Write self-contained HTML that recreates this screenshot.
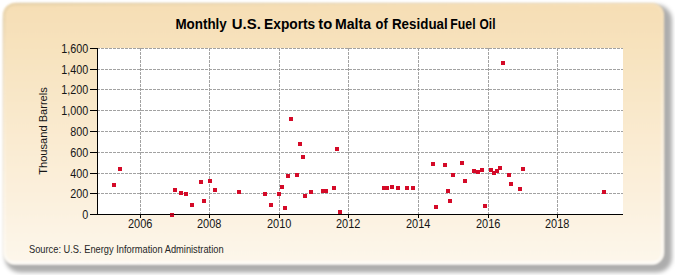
<!DOCTYPE html>
<html><head><meta charset="utf-8"><style>
html,body{margin:0;padding:0;width:675px;height:275px;overflow:hidden;background:#fff;}
svg{position:absolute;left:0;top:0;}
text{font-family:"Liberation Sans",sans-serif;fill:#000;}
.t{font-size:12px;fill:#161616;}
.yt{font-size:11.5px;fill:#161616;}
.title{font-size:14px;font-weight:bold;}
.src{font-size:10px;fill:#262626;}
</style></head><body>
<svg width="675" height="275" viewBox="0 0 675 275">
<defs><linearGradient id="bg" x1="0" y1="0" x2="0" y2="1"><stop offset="0" stop-color="#f6deb4"/><stop offset="0.98" stop-color="#fdf6ea"/><stop offset="1" stop-color="#fffbf4"/></linearGradient><linearGradient id="rim" x1="0" y1="0" x2="0.3" y2="1"><stop offset="0" stop-color="#c8b890" stop-opacity="0.35"/><stop offset="0.35" stop-color="#ffffff" stop-opacity="0.1"/><stop offset="1" stop-color="#ffffff" stop-opacity="0.7"/></linearGradient><filter id="sh" x="-5%" y="-10%" width="110%" height="120%"><feGaussianBlur stdDeviation="2.2"/></filter><filter id="soft" x="-2%" y="-2%" width="104%" height="104%"><feGaussianBlur stdDeviation="1"/></filter></defs>
<rect x="5" y="5" width="667" height="267.5" rx="15" fill="#000" fill-opacity="0.32" filter="url(#sh)"/>
<rect x="3" y="3" width="661" height="261.5" rx="12" fill="url(#bg)" filter="url(#soft)"/><rect x="4.5" y="4.5" width="658" height="258.5" rx="10.5" fill="none" stroke="url(#rim)" stroke-width="2" filter="url(#soft)"/>
<rect x="98" y="48" width="525" height="166" fill="#ffffff"/>
<line x1="97" y1="48.5" x2="623" y2="48.5" stroke="#a2a2a2" stroke-width="1" stroke-dasharray="3 1"/>
<line x1="97" y1="69.5" x2="623" y2="69.5" stroke="#a2a2a2" stroke-width="1" stroke-dasharray="3 1"/>
<line x1="97" y1="89.5" x2="623" y2="89.5" stroke="#a2a2a2" stroke-width="1" stroke-dasharray="3 1"/>
<line x1="97" y1="110.5" x2="623" y2="110.5" stroke="#a2a2a2" stroke-width="1" stroke-dasharray="3 1"/>
<line x1="97" y1="131.5" x2="623" y2="131.5" stroke="#a2a2a2" stroke-width="1" stroke-dasharray="3 1"/>
<line x1="97" y1="152.5" x2="623" y2="152.5" stroke="#a2a2a2" stroke-width="1" stroke-dasharray="3 1"/>
<line x1="97" y1="173.5" x2="623" y2="173.5" stroke="#a2a2a2" stroke-width="1" stroke-dasharray="3 1"/>
<line x1="97" y1="193.5" x2="623" y2="193.5" stroke="#a2a2a2" stroke-width="1" stroke-dasharray="3 1"/>
<line x1="140.5" y1="48" x2="140.5" y2="214" stroke="#a2a2a2" stroke-width="1" stroke-dasharray="3 1"/>
<line x1="209.5" y1="48" x2="209.5" y2="214" stroke="#a2a2a2" stroke-width="1" stroke-dasharray="3 1"/>
<line x1="279.5" y1="48" x2="279.5" y2="214" stroke="#a2a2a2" stroke-width="1" stroke-dasharray="3 1"/>
<line x1="348.5" y1="48" x2="348.5" y2="214" stroke="#a2a2a2" stroke-width="1" stroke-dasharray="3 1"/>
<line x1="418.5" y1="48" x2="418.5" y2="214" stroke="#a2a2a2" stroke-width="1" stroke-dasharray="3 1"/>
<line x1="488.5" y1="48" x2="488.5" y2="214" stroke="#a2a2a2" stroke-width="1" stroke-dasharray="3 1"/>
<line x1="557.5" y1="48" x2="557.5" y2="214" stroke="#a2a2a2" stroke-width="1" stroke-dasharray="3 1"/>
<line x1="97.5" y1="48" x2="97.5" y2="215" stroke="#000" stroke-width="1"/>
<line x1="97" y1="214.5" x2="623" y2="214.5" stroke="#000" stroke-width="1"/>
<line x1="90" y1="214.5" x2="97" y2="214.5" stroke="#000" stroke-width="1"/>
<line x1="90" y1="193.5" x2="97" y2="193.5" stroke="#000" stroke-width="1"/>
<line x1="90" y1="173.5" x2="97" y2="173.5" stroke="#000" stroke-width="1"/>
<line x1="90" y1="152.5" x2="97" y2="152.5" stroke="#000" stroke-width="1"/>
<line x1="90" y1="131.5" x2="97" y2="131.5" stroke="#000" stroke-width="1"/>
<line x1="90" y1="110.5" x2="97" y2="110.5" stroke="#000" stroke-width="1"/>
<line x1="90" y1="89.5" x2="97" y2="89.5" stroke="#000" stroke-width="1"/>
<line x1="90" y1="69.5" x2="97" y2="69.5" stroke="#000" stroke-width="1"/>
<line x1="90" y1="48.5" x2="97" y2="48.5" stroke="#000" stroke-width="1"/>
<line x1="140.5" y1="215" x2="140.5" y2="218" stroke="#000" stroke-width="1"/>
<line x1="209.5" y1="215" x2="209.5" y2="218" stroke="#000" stroke-width="1"/>
<line x1="279.5" y1="215" x2="279.5" y2="218" stroke="#000" stroke-width="1"/>
<line x1="348.5" y1="215" x2="348.5" y2="218" stroke="#000" stroke-width="1"/>
<line x1="418.5" y1="215" x2="418.5" y2="218" stroke="#000" stroke-width="1"/>
<line x1="488.5" y1="215" x2="488.5" y2="218" stroke="#000" stroke-width="1"/>
<line x1="557.5" y1="215" x2="557.5" y2="218" stroke="#000" stroke-width="1"/>
<rect x="112" y="183" width="4" height="4" fill="#d40a28"/>
<rect x="118" y="167" width="4" height="4" fill="#d40a28"/>
<rect x="170" y="213" width="4" height="4" fill="#d40a28"/>
<rect x="173" y="188" width="4" height="4" fill="#d40a28"/>
<rect x="179" y="191" width="4" height="4" fill="#d40a28"/>
<rect x="184" y="192" width="4" height="4" fill="#d40a28"/>
<rect x="190" y="203" width="4" height="4" fill="#d40a28"/>
<rect x="199" y="180" width="4" height="4" fill="#d40a28"/>
<rect x="202" y="199" width="4" height="4" fill="#d40a28"/>
<rect x="208" y="179" width="4" height="4" fill="#d40a28"/>
<rect x="213" y="188" width="4" height="4" fill="#d40a28"/>
<rect x="237" y="190" width="4" height="4" fill="#d40a28"/>
<rect x="263" y="192" width="4" height="4" fill="#d40a28"/>
<rect x="269" y="203" width="4" height="4" fill="#d40a28"/>
<rect x="277" y="192" width="4" height="4" fill="#d40a28"/>
<rect x="280" y="185" width="4" height="4" fill="#d40a28"/>
<rect x="283" y="206" width="4" height="4" fill="#d40a28"/>
<rect x="286" y="174" width="4" height="4" fill="#d40a28"/>
<rect x="289" y="117" width="4" height="4" fill="#d40a28"/>
<rect x="295" y="173" width="4" height="4" fill="#d40a28"/>
<rect x="298" y="142" width="4" height="4" fill="#d40a28"/>
<rect x="301" y="155" width="4" height="4" fill="#d40a28"/>
<rect x="303" y="194" width="4" height="4" fill="#d40a28"/>
<rect x="309" y="190" width="4" height="4" fill="#d40a28"/>
<rect x="321" y="189" width="4" height="4" fill="#d40a28"/>
<rect x="324" y="189" width="4" height="4" fill="#d40a28"/>
<rect x="332" y="186" width="4" height="4" fill="#d40a28"/>
<rect x="335" y="147" width="4" height="4" fill="#d40a28"/>
<rect x="338" y="210" width="4" height="4" fill="#d40a28"/>
<rect x="382" y="186" width="4" height="4" fill="#d40a28"/>
<rect x="385" y="186" width="4" height="4" fill="#d40a28"/>
<rect x="390" y="185" width="4" height="4" fill="#d40a28"/>
<rect x="396" y="186" width="4" height="4" fill="#d40a28"/>
<rect x="405" y="186" width="4" height="4" fill="#d40a28"/>
<rect x="411" y="186" width="4" height="4" fill="#d40a28"/>
<rect x="431" y="162" width="4" height="4" fill="#d40a28"/>
<rect x="434" y="205" width="4" height="4" fill="#d40a28"/>
<rect x="443" y="163" width="4" height="4" fill="#d40a28"/>
<rect x="446" y="189" width="4" height="4" fill="#d40a28"/>
<rect x="448" y="199" width="4" height="4" fill="#d40a28"/>
<rect x="451" y="173" width="4" height="4" fill="#d40a28"/>
<rect x="460" y="161" width="4" height="4" fill="#d40a28"/>
<rect x="463" y="179" width="4" height="4" fill="#d40a28"/>
<rect x="472" y="169" width="4" height="4" fill="#d40a28"/>
<rect x="476" y="170" width="4" height="4" fill="#d40a28"/>
<rect x="480" y="168" width="4" height="4" fill="#d40a28"/>
<rect x="483" y="204" width="4" height="4" fill="#d40a28"/>
<rect x="489" y="168" width="4" height="4" fill="#d40a28"/>
<rect x="492" y="171" width="4" height="4" fill="#d40a28"/>
<rect x="495" y="169" width="4" height="4" fill="#d40a28"/>
<rect x="498" y="166" width="4" height="4" fill="#d40a28"/>
<rect x="501" y="61" width="4" height="4" fill="#d40a28"/>
<rect x="507" y="173" width="4" height="4" fill="#d40a28"/>
<rect x="509" y="182" width="4" height="4" fill="#d40a28"/>
<rect x="518" y="187" width="4" height="4" fill="#d40a28"/>
<rect x="521" y="167" width="4" height="4" fill="#d40a28"/>
<rect x="602" y="190" width="4" height="4" fill="#d40a28"/>
<line x1="170" y1="214.5" x2="174" y2="214.5" stroke="#000" stroke-opacity="0.35" stroke-width="1"/>
<text transform="translate(88.3,218.5) scale(0.9,1)" text-anchor="end" class="t">0</text>
<text transform="translate(88.3,197.5) scale(0.9,1)" text-anchor="end" class="t">200</text>
<text transform="translate(88.3,177.5) scale(0.9,1)" text-anchor="end" class="t">400</text>
<text transform="translate(88.3,156.5) scale(0.9,1)" text-anchor="end" class="t">600</text>
<text transform="translate(88.3,135.5) scale(0.9,1)" text-anchor="end" class="t">800</text>
<text transform="translate(88.3,114.5) scale(0.9,1)" text-anchor="end" class="t">1,000</text>
<text transform="translate(88.3,93.5) scale(0.9,1)" text-anchor="end" class="t">1,200</text>
<text transform="translate(88.3,73.5) scale(0.9,1)" text-anchor="end" class="t">1,400</text>
<text transform="translate(88.3,52.5) scale(0.9,1)" text-anchor="end" class="t">1,600</text>
<text transform="translate(140.2,228) scale(0.915,1)" text-anchor="middle" class="t">2006</text>
<text transform="translate(209.2,228) scale(0.915,1)" text-anchor="middle" class="t">2008</text>
<text transform="translate(279.2,228) scale(0.915,1)" text-anchor="middle" class="t">2010</text>
<text transform="translate(348.2,228) scale(0.915,1)" text-anchor="middle" class="t">2012</text>
<text transform="translate(418.2,228) scale(0.915,1)" text-anchor="middle" class="t">2014</text>
<text transform="translate(488.2,228) scale(0.915,1)" text-anchor="middle" class="t">2016</text>
<text transform="translate(557.2,228) scale(0.915,1)" text-anchor="middle" class="t">2018</text>
<text transform="translate(176.40,29) scale(0.958,1)" x="-1.0" class="title">Monthly</text>
<text transform="translate(232.60,29) scale(1.067,1)" x="-0.75" class="title">U.S.</text>
<text transform="translate(265.10,29) scale(0.982,1)" x="-1.0" class="title">Exports</text>
<text transform="translate(318.50,29) scale(1.056,1)" x="-0.25" class="title">to</text>
<text transform="translate(336.00,29) scale(1.007,1)" x="-1.0" class="title">Malta</text>
<text transform="translate(376.00,29) scale(0.918,1)" x="-0.5" class="title">of</text>
<text transform="translate(392.90,29) scale(0.956,1)" x="-1.0" class="title">Residual</text>
<text transform="translate(451.20,29) scale(0.879,1)" x="-1.0" class="title">Fuel</text>
<text transform="translate(480.00,29) scale(0.852,1)" x="-0.5" class="title">Oil</text>
<text transform="translate(29,253) scale(0.93,1)" class="src">Source: U.S. Energy Information Administration</text>
<text transform="translate(47,131) rotate(-90) scale(0.966,1)" text-anchor="middle" class="yt">Thousand Barrels</text>
</svg>
</body></html>
